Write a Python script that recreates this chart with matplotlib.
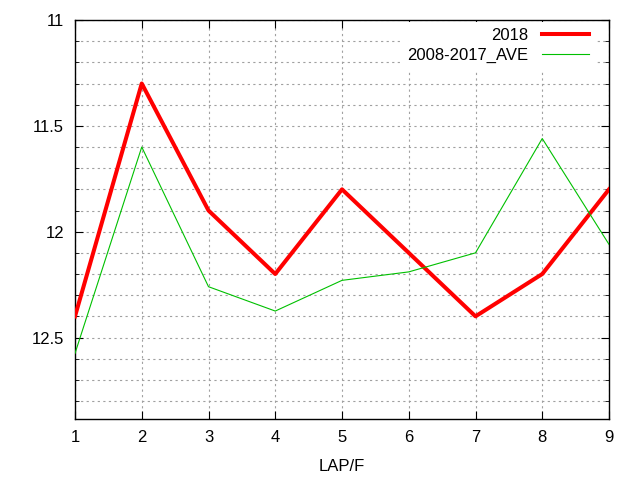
import matplotlib.pyplot as plt
import numpy as np

# lap times
laps = [1, 2, 3, 4, 5, 6, 7, 8, 9]
times_2018 = [12.40, 11.30, 11.90, 12.20, 11.80, 12.10, 12.40, 12.20, 11.80]
times_ave = [12.575, 11.60, 12.26, 12.375, 12.23, 12.19, 12.10, 11.56, 12.06]
y_ticks = [11, 11.5, 12, 12.5]
y_tick_labels = ["11", "11.5", "12", "12.5"]

plt.rcParams["font.family"] = ["Liberation Sans", "DejaVu Sans"]

fig = plt.figure(figsize=(6.4, 4.8), dpi=100)
ax = fig.add_axes([75 / 640, 1 - 419 / 480, 534 / 640, 399 / 480])

ax.plot(laps, times_2018, color="#ff0000", lw=2.9, label="2018", zorder=3)
ax.plot(laps, times_ave, color="#00c000", lw=0.8, label="2008-2017_AVE", zorder=3)

ax.set_xlim(1, 9)
ax.set_ylim(12.885, 11)
ax.set_xticks(laps)
ax.set_yticks(y_ticks)
ax.set_yticklabels(y_tick_labels)
ax.set_yticks(np.arange(11.1, 12.85, 0.1), minor=True)

ax.grid(True, which="both", color="#a0a0a0", linestyle=(0, (2, 3)), lw=0.8)
ax.tick_params(which="both", direction="in", top=True, right=True,
               labelsize=12, colors="black", pad=8)
ax.tick_params(which="major", length=6)
ax.tick_params(which="minor", length=3)
for s in ax.spines.values():
    s.set_linewidth(1)

ax.set_xlabel("LAP/F", fontsize=12, labelpad=10)

leg = ax.legend(loc="upper right", bbox_to_anchor=(1 - 12 / 534, 1),
                markerfirst=False, fontsize=12, frameon=True,
                handlelength=2.8, borderaxespad=0.1,
                labelspacing=0.3, handletextpad=0.84)
leg.get_frame().set_edgecolor("none")
leg.get_frame().set_facecolor("white")
leg.get_frame().set_alpha(1)

fig.savefig("out.png", dpi=100)
